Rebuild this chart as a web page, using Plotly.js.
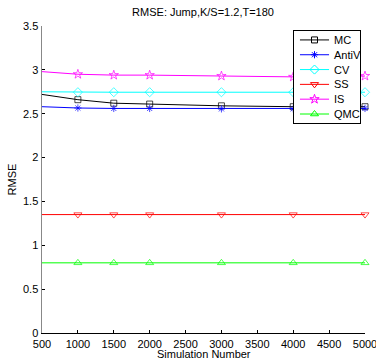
<!DOCTYPE html>
<html>
<head>
<meta charset="utf-8">
<script src="https://cdn.plot.ly/plotly-3.0.1.min.js"></script>
<style>
html,body{margin:0;padding:0;background:#fff;}
#chart{width:376px;height:360px;}
</style>
</head>
<body>
<div id="chart"></div>
<script>
const simNumbers = [500, 1000, 1500, 2000, 3000, 4000, 5000];
const seriesNames = ["MC", "AntiV", "CV", "SS", "IS", "QMC"];
const mcValues    = [2.72, 2.66, 2.62, 2.61, 2.59, 2.58, 2.58];
const antivValues = [2.58, 2.565, 2.56, 2.56, 2.555, 2.555, 2.56];
const cvValues    = [2.75, 2.745, 2.745, 2.745, 2.745, 2.745, 2.745];
const ssValues    = [1.35, 1.35, 1.35, 1.35, 1.35, 1.35, 1.35];
const isValues    = [2.98, 2.95, 2.94, 2.94, 2.93, 2.92, 2.93];
const qmcValues   = [0.80, 0.80, 0.80, 0.80, 0.80, 0.80, 0.80];
const yTicks = [0, 0.5, 1, 1.5, 2, 2.5, 3, 3.5];
const xTicks = [500, 1000, 1500, 2000, 2500, 3000, 3500, 4000, 4500, 5000];

const allValues = [mcValues, antivValues, cvValues, ssValues, isValues, qmcValues];
const colors = ["#000000", "#0000ff", "#00ffff", "#ff0000", "#ff00ff", "#00ff00"];
const symbols = ["square-open", "asterisk-open", "diamond-open", "triangle-down-open", "star-open", "triangle-up-open"];
const sizes = [6, 6, 7, 7, 7, 7];

const traces = seriesNames.map((name, i) => ({
  type: "scatter",
  mode: "lines+markers",
  name: name,
  showlegend: false,
  x: simNumbers,
  y: allValues[i],
  cliponaxis: false,
  line: {color: colors[i], width: 1},
  marker: {
    symbol: symbols[i],
    color: colors[i],
    size: simNumbers.map((v, k) => k === 0 ? 0 : sizes[i]),
    line: {color: colors[i], width: 1}
  }
}));

// custom legend drawn in an inset subplot (x2/y2, pixel-like units)
const rowY = i => 9 + i * 14.8;
const annotations = [];
seriesNames.forEach((name, i) => {
  traces.push({
    type: "scatter", mode: "lines", showlegend: false, hoverinfo: "skip",
    xaxis: "x2", yaxis: "y2",
    x: [6, 35], y: [rowY(i), rowY(i)],
    line: {color: colors[i], width: 1}
  });
  traces.push({
    type: "scatter", mode: "markers", showlegend: false, hoverinfo: "skip",
    xaxis: "x2", yaxis: "y2",
    x: [20.5], y: [rowY(i)],
    marker: {symbol: symbols[i], color: colors[i], size: sizes[i], line: {color: colors[i], width: 1}}
  });
  annotations.push({
    xref: "x2", yref: "y2", x: 38, y: rowY(i), xanchor: "left", yanchor: "middle",
    text: name, showarrow: false, font: {size: 11, color: "#000"}
  });
});
// x-axis title, placed just under the tick labels
annotations.push({
  xref: "paper", yref: "paper", x: 0.5, y: -0.0700, xanchor: "center", yanchor: "middle",
  text: "Simulation Number", showarrow: false, font: {size: 11, color: "#000"}
});

const layout = {
  width: 376, height: 360,
  margin: {l: 42, r: 11, t: 26, b: 27, pad: 0},
  paper_bgcolor: "#ffffff",
  plot_bgcolor: "#ffffff",
  font: {family: "Liberation Sans, Arial, sans-serif", size: 11, color: "#000"},
  title: {text: "RMSE: Jump,K/S=1.2,T=180", x: 0.54, xanchor: "center", y: 0.978, yanchor: "top", font: {size: 11}},
  showlegend: false,
  annotations: annotations,
  xaxis: {
    domain: [0, 1],
    range: [500, 5000], tickvals: xTicks, ticktext: xTicks.map(String),
    showgrid: false, zeroline: false, showline: true, linecolor: "#000", linewidth: 1,
    ticks: "inside", ticklen: 3, tickcolor: "#000", mirror: false,
    ticklabeloverflow: "allow", ticklabelstandoff: 1,
    tickfont: {size: 11}
  },
  yaxis: {
    domain: [0, 1],
    range: [0, 3.5], tickvals: yTicks, ticktext: yTicks.map(String),
    showgrid: false, zeroline: false, showline: true, linecolor: "#888", linewidth: 1.5,
    ticks: "inside", ticklen: 3, tickcolor: "#000",
    ticklabeloverflow: "allow",
    title: {text: "RMSE", standoff: 4, font: {size: 11}},
    tickfont: {size: 11}
  },
  xaxis2: {
    domain: [0.780, 0.985], anchor: "y2", range: [0, 66],
    showgrid: false, zeroline: false, showticklabels: false, ticks: "",
    showline: true, mirror: true, linecolor: "#000", linewidth: 1, fixedrange: true
  },
  yaxis2: {
    domain: [0.684, 0.984], anchor: "x2", range: [92, 0],
    showgrid: false, zeroline: false, showticklabels: false, ticks: "",
    showline: true, mirror: true, linecolor: "#000", linewidth: 1, fixedrange: true
  }
};

Plotly.newPlot("chart", traces, layout, {displayModeBar: false, staticPlot: true});
</script>
</body>
</html>
